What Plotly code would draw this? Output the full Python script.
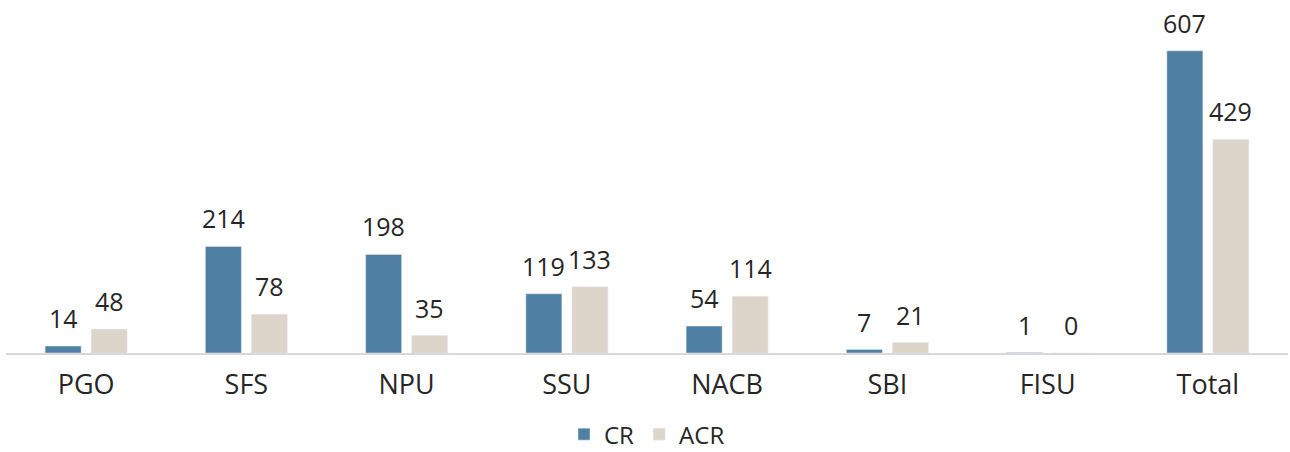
import plotly.graph_objects as go

categories = ["PGO", "SFS", "NPU", "SSU", "NACB", "SBI", "FISU", "Total"]
cr_values = [14, 214, 198, 119, 54, 7, 1, 607]
acr_values = [48, 78, 35, 133, 114, 21, 0, 429]

FONT = "Open Sans"
TEXT_COLOR = "#262626"
FS_TICK = 27
FS_LABEL = 25
FS_LEGEND = 24

W, H = 1290, 452
ML, MR, MT, MB = 6, 2, 20, 99
BARGAP, GROUPGAP = 0.426, 0.217

fig = go.Figure()
fig.add_trace(go.Bar(name="CR", x=categories, y=cr_values, marker_color="#4F80A4"))
fig.add_trace(go.Bar(name="ACR", x=categories, y=acr_values, marker_color="#DDD4CA"))

# value labels, placed in data coordinates above each bar
cat_px = (W - ML - MR) / len(categories)
slot_px = cat_px * (1 - BARGAP) / 2
for values, sign in ((cr_values, -1), (acr_values, 1)):
    for c, v in zip(categories, values):
        fig.add_annotation(x=c, y=v, text=str(v), showarrow=False,
                           xshift=sign * slot_px / 2, yshift=9,
                           yanchor="bottom", xanchor="center",
                           font=dict(size=FS_LABEL, color=TEXT_COLOR, family=FONT))

fig.update_layout(
    width=W, height=H,
    margin=dict(l=ML, r=MR, t=MT, b=MB, autoexpand=False),
    barmode="group", bargap=BARGAP, bargroupgap=GROUPGAP,
    plot_bgcolor="white", paper_bgcolor="white",
    font=dict(family=FONT, size=FS_TICK, color=TEXT_COLOR),
    showlegend=True,
    legend=dict(orientation="h", x=0.5, xanchor="center",
                y=-0.245, yanchor="middle",
                font=dict(size=FS_LEGEND, color=TEXT_COLOR), itemwidth=30,
                traceorder="normal"),
)
fig.update_xaxes(showline=True, linecolor="#D9D9D9", linewidth=2, automargin=False,
                 ticks="", tickfont=dict(size=FS_TICK, color=TEXT_COLOR), ticklabelstandoff=7)
fig.update_yaxes(range=[0, 669], visible=False, showgrid=False, zeroline=False, automargin=False)

fig.write_html("out.html", config={"displayModeBar": False},
               post_script="document.body.style.margin='0';")
